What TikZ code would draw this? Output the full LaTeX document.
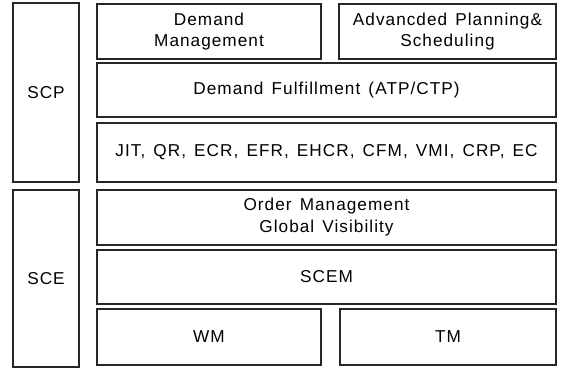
\documentclass[tikz,border=0pt]{standalone}
\usepackage{fontspec}
\setmainfont{Liberation Sans}[LetterSpace=6, WordSpace=1.4]
\newcommand{\twolines}[2]{\raisebox{-3pt}{\begin{tabular}{@{}c@{}}#1\\[-1pt]#2\end{tabular}}}
\begin{document}
\begin{tikzpicture}[x=1pt,y=-1pt,
  box/.style={draw=black!85, line width=1.3pt, rectangle, inner sep=0pt, align=center,
    font=\fontsize{17.2}{22}\selectfont}]
\useasboundingbox (0,0) rectangle (561,369);
\node[box, minimum width=66pt, minimum height=179pt] (scp) at (46,92.5) {SCP};
\node[box, minimum width=224pt, minimum height=55pt] (dm) at (209,31.5) {\twolines{Demand}{Management}};
\node[box, minimum width=217pt, minimum height=55pt] (aps) at (447.5,31.5) {\twolines{Advancded Planning\&}{Scheduling}};
\node[box, minimum width=459pt, minimum height=54pt] (df) at (326.5,90) {Demand Fulfillment (ATP/CTP)};
\node[box, minimum width=459pt, minimum height=59pt] (jit) at (326.5,152.5) {JIT, QR, ECR, EFR, EHCR, CFM, VMI, CRP, EC};
\node[box, minimum width=66pt, minimum height=177pt] (sce) at (46,278.5) {SCE};
\node[box, minimum width=459pt, minimum height=55pt] (om) at (326.5,217.5) {Order Management\\Global Visibility};
\node[box, minimum width=459pt, minimum height=54pt] (scem) at (326.5,277) {SCEM};
\node[box, minimum width=224pt, minimum height=56pt] (wm) at (209,337) {WM};
\node[box, minimum width=216pt, minimum height=56pt] (tm) at (448,337) {TM};
\end{tikzpicture}
\end{document}
